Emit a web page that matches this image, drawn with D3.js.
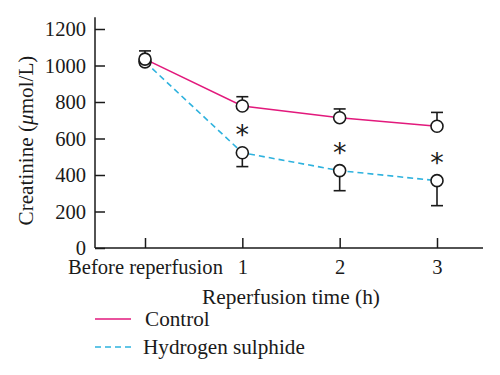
<!DOCTYPE html>
<html>
<head>
<meta charset="utf-8">
<script src="https://cdn.jsdelivr.net/npm/d3@7"></script>
<style>
  body { margin: 0; background: #fff; }
  svg { display: block; }
  text { font-family: "Liberation Serif", "DejaVu Serif", serif; fill: #1a1a1a; }
</style>
</head>
<body>
<div id="chart"></div>
<script>
// values
var categories = ['Before reperfusion', '1', '2', '3']
var controlMean = [1035, 778, 714, 667]
var controlErr = [45, 51, 48, 76]
var h2sMean = [1020, 522, 424, 369]
var h2sErr = [15, 76, 110, 137]
var starred = [false, true, true, true]
var yTicks = [0, 200, 400, 600, 800, 1000, 1200]

var width = 500,
    height = 375,
    axisLeftX = 95,
    axisRightX = 483,
    fontSize = 20;

var svg = d3.select('#chart')
    .append('svg')
    .attr('width', width)
    .attr('height', height);

svg.append('rect').attr('width', width).attr('height', height).attr('fill', '#fff');

// shrink/grow a text so it spans the width seen in the reference
function fitWidth(sel, target) {
    var w = sel.node().getComputedTextLength();
    var fs = parseFloat(sel.style('font-size'));
    sel.style('font-size', (fs * target / w) + 'px');
    return fs * target / w;
}

var x = d3.scalePoint().domain(categories).range([145, 437]);
var y = d3.scaleLinear().domain([0, 1200]).range([248, 29]);

var controlColor = '#e2197c',
    h2sColor = '#2eb2de';

// X axis first, to size the tick font from the long label
var xAxis = d3.axisBottom(x).tickSizeInner(-10).tickSizeOuter(0).tickPadding(11);
var gx = svg.append('g')
    .attr('transform', `translate(0,${y(0)})`)
    .call(xAxis);
gx.select('.domain').remove();
gx.selectAll('line').attr('stroke', '#1a1a1a').attr('stroke-width', 1.5);
gx.selectAll('text').style('font-size', fontSize + 'px').style('font-family', '"Liberation Serif", serif').attr('fill', '#1a1a1a');
var tickFont = fitWidth(gx.selectAll('text').filter(d => d == categories[0]), 155);
gx.selectAll('text').style('font-size', tickFont + 'px');

// Y axis
var yAxis = d3.axisLeft(y).tickValues(yTicks).tickFormat(d3.format('d'))
    .tickSizeInner(-10).tickSizeOuter(0).tickPadding(9);
var gy = svg.append('g')
    .attr('transform', `translate(${axisLeftX},0)`)
    .call(yAxis);
gy.select('.domain').remove();
gy.selectAll('line').attr('stroke', '#1a1a1a').attr('stroke-width', 1.5);
gy.selectAll('text').style('font-size', tickFont + 'px').style('font-family', '"Liberation Serif", serif').attr('fill', '#1a1a1a');

// axis lines
svg.append('line')
    .attr('x1', axisLeftX).attr('x2', axisLeftX)
    .attr('y1', y(0)).attr('y2', y(1265))
    .attr('stroke', '#1a1a1a').attr('stroke-width', 1.5);
svg.append('line')
    .attr('x1', axisLeftX).attr('x2', axisRightX)
    .attr('y1', y(0)).attr('y2', y(0))
    .attr('stroke', '#1a1a1a').attr('stroke-width', 1.5);

// axis titles
var ylab = svg.append('text')
    .attr('transform', `translate(33,${(y(0) + y(1200)) / 2 + 2}) rotate(-90)`)
    .attr('text-anchor', 'middle')
    .style('font-size', fontSize + 'px')
    .html('Creatinine (<tspan font-style="italic">μ</tspan>mol/L)');
fitWidth(ylab, 170);

var xlab = svg.append('text')
    .attr('x', 291)
    .attr('y', 304)
    .attr('text-anchor', 'middle')
    .style('font-size', fontSize + 'px')
    .text('Reperfusion time (h)');
fitWidth(xlab, 178);

// series lines
var line = function (vals) {
    return d3.line()
        .x((d, i) => x(categories[i]))
        .y(d => y(d))(vals)
}

svg.append('path')
    .attr('d', line(controlMean))
    .attr('fill', 'none')
    .attr('stroke', controlColor)
    .attr('stroke-width', 1.6);

svg.append('path')
    .attr('d', line(h2sMean))
    .attr('fill', 'none')
    .attr('stroke', h2sColor)
    .attr('stroke-width', 1.6)
    .attr('stroke-dasharray', '6,4');

// error bars: control upward, hydrogen sulphide downward
function errorBars(means, errs, dir) {
    var g = svg.append('g');
    g.selectAll('line.stem')
        .data(means)
        .enter()
        .append('line')
        .attr('class', 'stem')
        .attr('x1', (d, i) => x(categories[i]))
        .attr('x2', (d, i) => x(categories[i]))
        .attr('y1', d => y(d))
        .attr('y2', (d, i) => y(d + dir * errs[i]))
        .attr('stroke', '#1a1a1a').attr('stroke-width', 1.6);
    g.selectAll('line.cap')
        .data(means)
        .enter()
        .append('line')
        .attr('class', 'cap')
        .attr('x1', (d, i) => x(categories[i]) - 6)
        .attr('x2', (d, i) => x(categories[i]) + 6)
        .attr('y1', (d, i) => y(d + dir * errs[i]))
        .attr('y2', (d, i) => y(d + dir * errs[i]))
        .attr('stroke', '#1a1a1a').attr('stroke-width', 1.6);
}
errorBars(h2sMean, h2sErr, -1);
errorBars(controlMean, controlErr, 1);

function points(means) {
    svg.append('g').selectAll('circle')
        .data(means)
        .enter()
        .append('circle')
        .attr('cx', (d, i) => x(categories[i]))
        .attr('cy', d => y(d))
        .attr('r', 6)
        .attr('fill', '#fff')
        .attr('stroke', '#1a1a1a')
        .attr('stroke-width', 1.6);
}
points(h2sMean);
points(controlMean);

// significance marks
var marks = []
h2sMean.forEach(function (d, i) {
    if (starred[i]) marks.push({ v: d, c: categories[i] })
})
svg.append('g').selectAll('text')
    .data(marks)
    .enter()
    .append('text')
    .attr('x', d => x(d.c))
    .attr('y', d => y(d.v) - 9)
    .attr('text-anchor', 'middle')
    .style('font-family', '"DejaVu Sans", sans-serif')
    .style('font-size', '27px')
    .text('*');

// legend
var legendNames = ['Control', 'Hydrogen sulphide']
var legendColors = [controlColor, h2sColor]
var legendDash = [null, '6,4']
var legend = svg.append('g').attr('transform', 'translate(95,319)');
legend.selectAll('line')
    .data(legendNames)
    .enter()
    .append('line')
    .attr('x1', 0).attr('x2', 36)
    .attr('y1', (d, i) => i * 28).attr('y2', (d, i) => i * 28)
    .attr('stroke', (d, i) => legendColors[i])
    .attr('stroke-width', 1.6)
    .attr('stroke-dasharray', (d, i) => legendDash[i]);
var legText = legend.selectAll('text')
    .data(legendNames)
    .enter()
    .append('text')
    .attr('x', (d, i) => i == 0 ? 50 : 48)
    .attr('y', (d, i) => i * 28 + 7)
    .style('font-size', fontSize + 'px')
    .text(d => d);
var legFont = fitWidth(legText.filter((d, i) => i == 1), 162);
legText.style('font-size', legFont + 'px');
</script>
</body>
</html>
